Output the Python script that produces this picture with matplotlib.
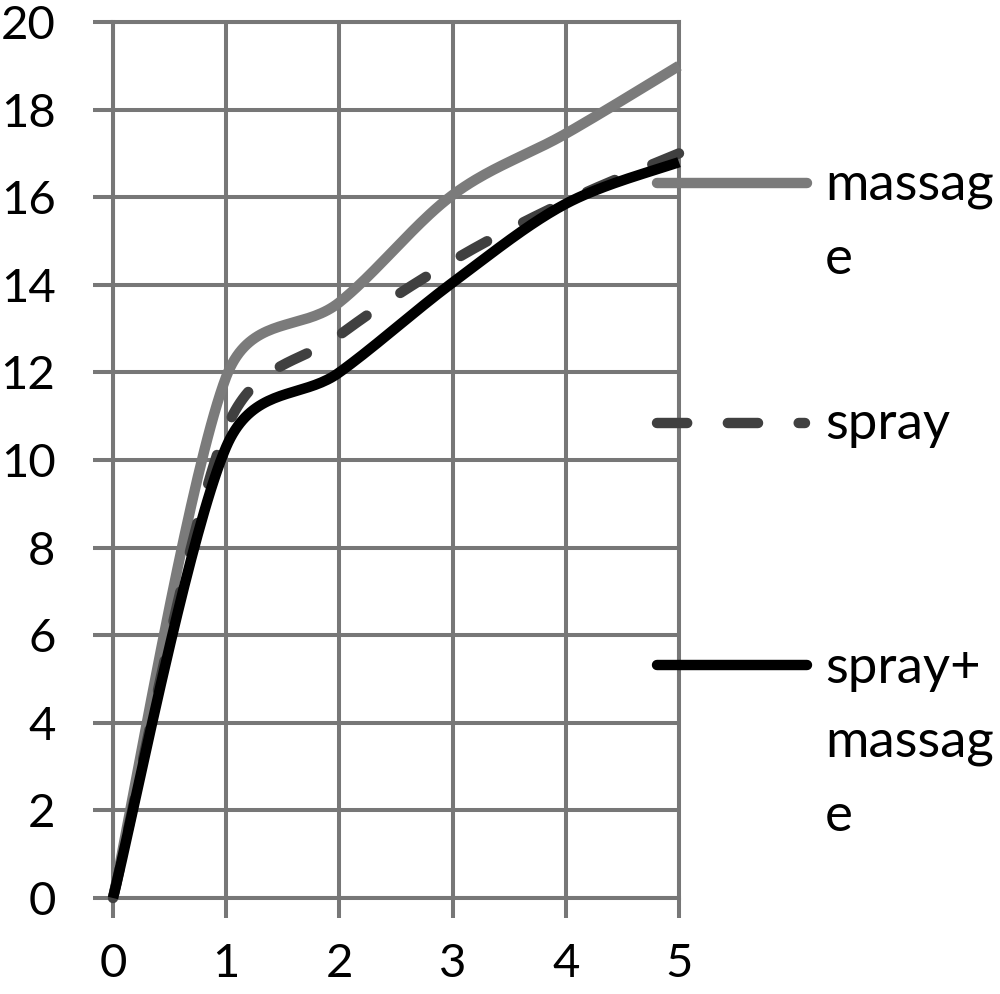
import numpy as np
import matplotlib
matplotlib.use("Agg")
import matplotlib.pyplot as plt
from matplotlib.lines import Line2D

days = [0, 1, 2, 3, 4, 5]
massage = [0, 11.9, 13.6, 16.05, 17.45, 19.0]
spray = [0, 10.7, 12.85, 14.55, 15.9, 17.0]
spray_massage = [0, 10.3, 12.0, 14.05, 15.85, 16.8]

labels = ["massag\ne", "spray", "spray+\nmassag\ne"]
colors = ["#7b7b7b", "#404040", "#000000"]
GRID = "#777777"

plt.rcParams['font.family'] = ['Lato', 'DejaVu Sans']

# pixel size of one x unit / one y unit, smoothing is done in screen space
XPX = 566 / 5
YPX = 876 / 20


def smooth(xs, ys, n=40):
   # excel style smoothed line: bezier through every point,
   # handles capped at half of the neighbouring segment
   p = np.column_stack([np.array(xs) * XPX, np.array(ys) * YPX]).astype(float)
   ext = np.vstack([p[0], p, p[-1]])
   fwd, back = [], []
   for i in range(len(p)):
      T = ext[i + 2] - ext[i]
      L = np.hypot(*T)
      df = np.hypot(*(ext[i + 2] - ext[i + 1]))
      db = np.hypot(*(ext[i + 1] - ext[i]))
      ff = min(1 / 6, 0.5 * df / L) if L > 0 else 0
      fb = min(1 / 6, 0.5 * db / L) if L > 0 else 0
      fwd.append(p[i] + T * ff)
      back.append(p[i] - T * fb)
   out = []
   t = np.linspace(0, 1, n)[:, None]
   for i in range(len(p) - 1):
      p1, b1, b2, p2 = p[i], fwd[i], back[i + 1], p[i + 1]
      seg = ((1 - t) ** 3) * p1 + 3 * ((1 - t) ** 2) * t * b1 + 3 * (1 - t) * t ** 2 * b2 + t ** 3 * p2
      out.append(seg if i == 0 else seg[1:])
   seg = np.vstack(out)
   return seg[:, 0] / XPX, seg[:, 1] / YPX


fig = plt.figure(figsize=(10, 9.94), dpi=100)
ax = fig.add_axes([0.113, 1 - 898 / 994, 0.566, 876 / 994])

lw = 7.5
series = [massage, spray, spray_massage]
for i, ys in enumerate(series):
   sx, sy = smooth(days, ys)
   if i == 1:
      ax.plot(sx, sy, color=colors[i], lw=lw, dashes=(2.9, 3.9),
              dash_capstyle='round', clip_on=False, zorder=3 + i)
   else:
      ax.plot(sx, sy, color=colors[i], lw=lw, solid_capstyle='butt',
              clip_on=False, zorder=3 + i)

ax.set_xlim(0, 5)
ax.set_ylim(0, 20)
ax.set_xticks(days)
ax.set_yticks(range(0, 21, 2))
ax.grid(True, color=GRID, lw=2.9)
ax.set_axisbelow(True)
for s in ax.spines.values():
   s.set_color(GRID)
   s.set_linewidth(2.9)
ax.tick_params(axis='both', length=14.4, width=2.9, color=GRID, labelsize=34)
ax.tick_params(axis='y', pad=27)
ax.tick_params(axis='x', pad=18)

# legend drawn by hand so the handles can run over the plot edge
hy = [183, 423, 665]
step = 75
for i in range(3):
   y = 1 - hy[i] / 994
   if i == 1:
      ln = Line2D([0.657, 0.805], [y, y], transform=fig.transFigure, color=colors[i],
                  lw=lw, dashes=(2.9, 3.9), dash_capstyle='round', zorder=10)
   else:
      ln = Line2D([0.657, 0.807], [y, y], transform=fig.transFigure, color=colors[i],
                  lw=lw, solid_capstyle='round', zorder=10)
   fig.add_artist(ln)
   nl = labels[i].count("\n")
   base = hy[i] + 16 + nl * step
   fig.text(0.825, 1 - base / 994, labels[i], fontsize=38, va='baseline',
            ha='left', linespacing=1.71)

fig.savefig("out.png", dpi=100)
